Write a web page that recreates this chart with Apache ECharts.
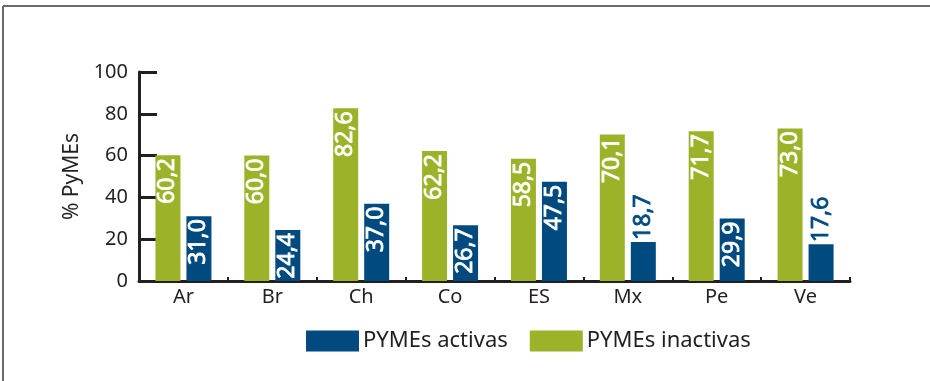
<!DOCTYPE html>
<html>
<head>
<meta charset="utf-8">
<script src="https://cdn.jsdelivr.net/npm/echarts@6/dist/echarts.min.js"></script>
<style>
  html, body { margin: 0; padding: 0; background: #fff; }
  #chart { width: 930px; height: 381px; }
</style>
</head>
<body>
<div id="chart"></div>
<script>
// Country codes along the category axis
const categories = ['Ar', 'Br', 'Ch', 'Co', 'ES', 'Mx', 'Pe', 'Ve'];
// Share of SMEs (%) per country
const inactivas = [60.2, 60.0, 82.6, 62.2, 58.5, 70.1, 71.7, 73.0];
const activas = [31.0, 24.4, 37.0, 26.7, 47.5, 18.7, 29.9, 17.6];
const yTicks = [0, 20, 40, 60, 80, 100];

const BLUE = '#004a80';
const GREEN = '#9cb329';
const INK = '#231f20';
const FONT = 'Noto Sans';

const fmt = v => v.toFixed(1).replace('.', ',');

// Values too short to fit inside the bar are written above it
function labelFor(v, color) {
  const inside = v >= 20;
  const c = inside ? '#fff' : color;
  return {
    value: v,
    label: inside ? {
      show: true, position: 'insideTop', rotate: 90, align: 'right',
      verticalAlign: 'middle', distance: 3, color: c,
      textBorderColor: c, textBorderWidth: 0.8
    } : {
      show: true, position: 'top', rotate: 90, align: 'left',
      verticalAlign: 'middle', distance: 2, color: c,
      textBorderColor: c, textBorderWidth: 0.8
    }
  };
}

const labelBase = {
  show: true,
  fontFamily: FONT,
  fontSize: 23,
  fontWeight: 'normal',
  formatter: p => fmt(p.value)
};

const chart = echarts.init(document.getElementById('chart'), null, { renderer: 'canvas' });
chart.setOption({
  animation: false,
  textStyle: { fontFamily: FONT, color: INK },
  graphic: [
    { type: 'line', shape: { x1: 3, y1: 6, x2: 930, y2: 6 }, style: { stroke: '#6b6b6b', lineWidth: 2 } },
    { type: 'line', shape: { x1: 3, y1: 6, x2: 3, y2: 381 }, style: { stroke: '#6b6b6b', lineWidth: 2 } }
  ],
  legend: {
    data: ['PYMEs activas', 'PYMEs inactivas'],
    left: 301,
    top: 325,
    itemWidth: 53,
    itemHeight: 21,
    itemGap: 22,
    icon: 'rect',
    textStyle: { fontFamily: FONT, fontSize: 22, color: INK, padding: [0, 0, 0, -1] }
  },
  grid: { left: 139, right: 80, top: 72, bottom: 100, containLabel: false },
  xAxis: {
    type: 'category',
    data: categories,
    boundaryGap: true,
    axisLine: { lineStyle: { color: INK, width: 3 } },
    axisTick: { show: true, inside: true, length: 4, lineStyle: { color: INK, width: 2 } },
    axisLabel: { color: INK, fontSize: 20, fontFamily: FONT, margin: 6 }
  },
  yAxis: {
    type: 'value',
    min: 0,
    max: 100,
    interval: 20,
    name: '% PyMEs',
    nameLocation: 'middle',
    nameGap: 50,
    nameRotate: 90,
    nameTextStyle: { color: INK, fontSize: 21, fontFamily: FONT },
    axisLine: { show: true, lineStyle: { color: INK, width: 3 } },
    axisTick: { show: true, inside: true, length: 18, lineStyle: { color: INK, width: 3 } },
    splitLine: { show: false },
    axisLabel: {
      color: INK, fontSize: 20, fontFamily: FONT, margin: 11,
      formatter: v => yTicks.includes(v) ? String(v) : ''
    }
  },
  series: [
    {
      name: 'PYMEs inactivas',
      type: 'bar',
      barWidth: 25,
      barGap: '24%',
      itemStyle: { color: GREEN },
      label: labelBase,
      data: inactivas.map(v => labelFor(v, GREEN))
    },
    {
      name: 'PYMEs activas',
      type: 'bar',
      barWidth: 25,
      barGap: '24%',
      itemStyle: { color: BLUE },
      label: labelBase,
      data: activas.map(v => labelFor(v, BLUE))
    }
  ]
});
</script>
</body>
</html>
